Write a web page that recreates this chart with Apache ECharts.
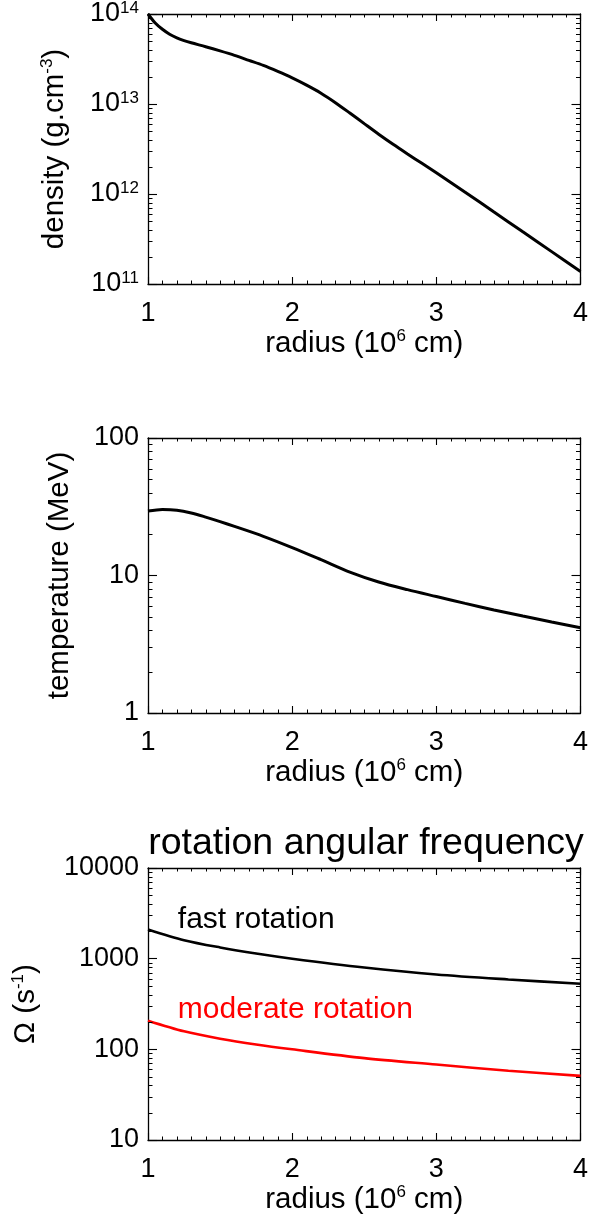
<!DOCTYPE html>
<html>
<head>
<meta charset="utf-8">
<script src="https://cdn.jsdelivr.net/npm/echarts@6/dist/echarts.min.js"></script>
<style>
html,body{margin:0;padding:0;background:#fff;}
#chart{width:591px;height:1221px;}
</style>
</head>
<body>
<div id="chart"></div>
<script>
// ---- data ----
const densityRadius = [1.0, 1.05, 1.1, 1.15, 1.2, 1.25, 1.3, 1.4, 1.5, 1.6, 1.7, 1.8, 1.9, 2.0, 2.1, 2.2, 2.3, 2.4, 2.5, 2.6, 2.7, 2.8, 2.9, 3.0, 3.2, 3.4, 3.6, 3.8, 4.0];
const densityValues = [1.0e14, 7.94e13, 6.76e13, 5.96e13, 5.43e13, 5.07e13, 4.79e13, 4.33e13, 3.89e13, 3.47e13, 3.05e13, 2.68e13, 2.3e13, 1.95e13, 1.62e13, 1.318e13, 1.035e13, 7.94e12, 6.05e12, 4.62e12, 3.57e12, 2.79e12, 2.19e12, 1.72e12, 1.047e12, 6.31e11, 3.8e11, 2.29e11, 1.38e11];

const tempRadius = [1.0, 1.1, 1.2, 1.3, 1.4, 1.5, 1.6, 1.8, 2.0, 2.2, 2.4, 2.6, 2.8, 3.0, 3.2, 3.4, 3.6, 3.8, 4.0];
const tempValues = [29.4, 30.2, 29.85, 28.5, 26.6, 24.66, 22.75, 19.28, 15.96, 13.03, 10.59, 8.97, 7.89, 7.03, 6.27, 5.62, 5.07, 4.59, 4.17];

const omegaRadius = [1.0, 1.25, 1.5, 1.75, 2.0, 2.5, 3.0, 3.5, 4.0];
const omegaFast = [2100, 1600, 1330, 1140, 1000, 800, 670, 590, 528];
const omegaModerate = [207, 158, 131, 113, 100, 80, 68, 58, 51];

const xTicks = [1, 2, 3, 4];
const densityTicks = [1e11, 1e12, 1e13, 1e14];
const tempTicks = [1, 10, 100];
const omegaTicks = [10, 100, 1000, 10000];

const labelFast = {text: 'fast rotation', r: 1.207, v: 2670};
const labelModerate = {text: 'moderate rotation', r: 1.207, v: 272};

// ---- layout helpers ----
const FONT = 'Liberation Sans, Arial, Helvetica, sans-serif';
const AX = {color: '#000', width: 1.3};
const TK = {color: '#000', width: 1.1};
const grids = [
  {left: 148, right: 9, top: 10, height: 274},
  {left: 148, right: 9, top: 438, height: 275},
  {left: 148, right: 9, top: 868, height: 272}
];

function zip(a, b) { return a.map((x, i) => [x, b[i]]); }

function minorValues(ticks) {
  const out = [];
  for (let i = 0; i < ticks.length - 1; i++) {
    for (let m = 2; m <= 9; m++) out.push(ticks[i] * m);
  }
  return out;
}
function xMinorValues() {
  const out = [];
  for (let i = 0; i < xTicks.length - 1; i++) {
    for (let k = 1; k <= 9; k++) out.push(xTicks[i] + k / 10);
  }
  return out;
}

const nameStyle = {
  fontSize: 29.5, color: '#000', fontFamily: FONT, lineHeight: 32,
  rich: {sup: {fontSize: 17, fontFamily: FONT, color: '#000', verticalAlign: 'top', lineHeight: 20}}
};

function xAxes(gi) {
  const common = {
    type: 'value', gridIndex: gi, min: xTicks[0], max: xTicks[xTicks.length - 1], interval: 1,
    axisLine: {show: true, lineStyle: AX},
    axisTick: {show: true, inside: true, length: 7, lineStyle: TK},
    splitLine: {show: false}
  };
  return [
    Object.assign({}, common, {
      position: 'bottom',
      axisLabel: {show: true, margin: 16, fontSize: 27, color: '#000', fontFamily: FONT},
      name: 'radius (10{sup|6} cm)', nameLocation: 'middle', nameGap: 43, nameTextStyle: nameStyle
    }),
    Object.assign({}, common, {position: 'top', axisLabel: {show: false}})
  ];
}

function yAxes(gi, ticks, name, nameGap, labelFormatter) {
  const common = {
    type: 'log', logBase: 10, gridIndex: gi, min: ticks[0], max: ticks[ticks.length - 1],
    axisLine: {show: true, lineStyle: AX},
    axisTick: {show: true, inside: true, length: 9, lineStyle: TK},
    splitLine: {show: false}
  };
  return [
    Object.assign({}, common, {
      position: 'left',
      axisLabel: {
        show: true, margin: 9, fontSize: 27, color: '#000', fontFamily: FONT, lineHeight: 28,
        formatter: labelFormatter,
        rich: {sup: {fontSize: 17, fontFamily: FONT, color: '#000', verticalAlign: 'top', lineHeight: 18}}
      },
      name: name, nameLocation: 'middle', nameGap: nameGap, nameTextStyle: nameStyle
    }),
    Object.assign({}, common, {position: 'right', axisLabel: {show: false}})
  ];
}

// minor ticks on all four sides of a frame, placed through the axes' own scales
function minorTickSeries(gi, ticks) {
  const yData = minorValues(ticks).map(v => ({value: [xTicks[0], v], kind: 'y'}));
  const xData = xMinorValues().map(x => ({value: [x, ticks[0]], kind: 'x'}));
  const all = yData.concat(xData);
  return {
    type: 'custom', coordinateSystem: 'cartesian2d', xAxisIndex: gi * 2, yAxisIndex: gi * 2,
    silent: true, clip: false, z: 10,
    data: all.map(d => d.value),
    renderItem: function (params, api) {
      const kind = all[params.dataIndex].kind;
      const x = api.value(0);
      const v = api.value(1);
      let children;
      if (kind === 'y') {
        const pl = api.coord([xTicks[0], v]);
        const pr = api.coord([xTicks[xTicks.length - 1], v]);
        const y = Math.round(pl[1]) + 0.5;
        children = [
          {type: 'line', shape: {x1: pl[0], y1: y, x2: pl[0] + 4.5, y2: y}, style: {stroke: '#000', lineWidth: 1}},
          {type: 'line', shape: {x1: pr[0], y1: y, x2: pr[0] - 4.5, y2: y}, style: {stroke: '#000', lineWidth: 1}}
        ];
      } else {
        const pb = api.coord([x, ticks[0]]);
        const pt = api.coord([x, ticks[ticks.length - 1]]);
        const xx = Math.round(pb[0]) + 0.5;
        children = [
          {type: 'line', shape: {x1: xx, y1: pb[1], x2: xx, y2: pb[1] - 3.5}, style: {stroke: '#000', lineWidth: 1}},
          {type: 'line', shape: {x1: xx, y1: pt[1], x2: xx, y2: pt[1] + 3.5}, style: {stroke: '#000', lineWidth: 1}}
        ];
      }
      return {type: 'group', children: children};
    }
  };
}

const expFormatter = v => '10{sup|' + Math.round(Math.log10(v)) + '}';
const plainFormatter = v => String(Math.round(v));

const option = {
  animation: false,
  backgroundColor: '#fff',
  title: {
    text: 'rotation angular frequency', left: 361, top: 819, textAlign: 'center',
    textStyle: {fontSize: 37.5, fontWeight: 'normal', color: '#000', fontFamily: FONT, lineHeight: 40}
  },
  grid: grids,
  xAxis: [].concat(xAxes(0), xAxes(1), xAxes(2)),
  yAxis: [].concat(
    yAxes(0, densityTicks, 'density (g.cm{sup|-3})', 77, expFormatter),
    yAxes(1, tempTicks, 'temperature (MeV)', 72, plainFormatter),
    yAxes(2, omegaTicks, 'Ω (s{sup|-1})', 106, plainFormatter)
  ),
  series: [
    {
      type: 'line', xAxisIndex: 0, yAxisIndex: 0, data: zip(densityRadius, densityValues),
      showSymbol: false, smooth: 0.3, lineStyle: {color: '#000', width: 3}, z: 5
    },
    {
      type: 'line', xAxisIndex: 2, yAxisIndex: 2, data: zip(tempRadius, tempValues),
      showSymbol: false, smooth: 0.3, lineStyle: {color: '#000', width: 3}, z: 5
    },
    {
      type: 'line', xAxisIndex: 4, yAxisIndex: 4, data: zip(omegaRadius, omegaFast),
      showSymbol: false, smooth: 0.3, lineStyle: {color: '#000', width: 2.6}, z: 5,
      markPoint: {
        symbol: 'circle', symbolSize: 0, silent: true,
        label: {show: true, position: 'right', distance: 0, formatter: labelFast.text, fontSize: 30, color: '#000', fontFamily: FONT},
        data: [{coord: [labelFast.r, labelFast.v]}]
      }
    },
    {
      type: 'line', xAxisIndex: 4, yAxisIndex: 4, data: zip(omegaRadius, omegaModerate),
      showSymbol: false, smooth: 0.3, lineStyle: {color: '#ff0000', width: 2.6}, z: 5,
      markPoint: {
        symbol: 'circle', symbolSize: 0, silent: true,
        label: {show: true, position: 'right', distance: 0, formatter: labelModerate.text, fontSize: 30, color: '#ff0000', fontFamily: FONT},
        data: [{coord: [labelModerate.r, labelModerate.v]}]
      }
    },
    minorTickSeries(0, densityTicks),
    minorTickSeries(1, tempTicks),
    minorTickSeries(2, omegaTicks)
  ]
};

const chart = echarts.init(document.getElementById('chart'), null, {renderer: 'canvas'});
chart.setOption(option);
</script>
</body>
</html>
